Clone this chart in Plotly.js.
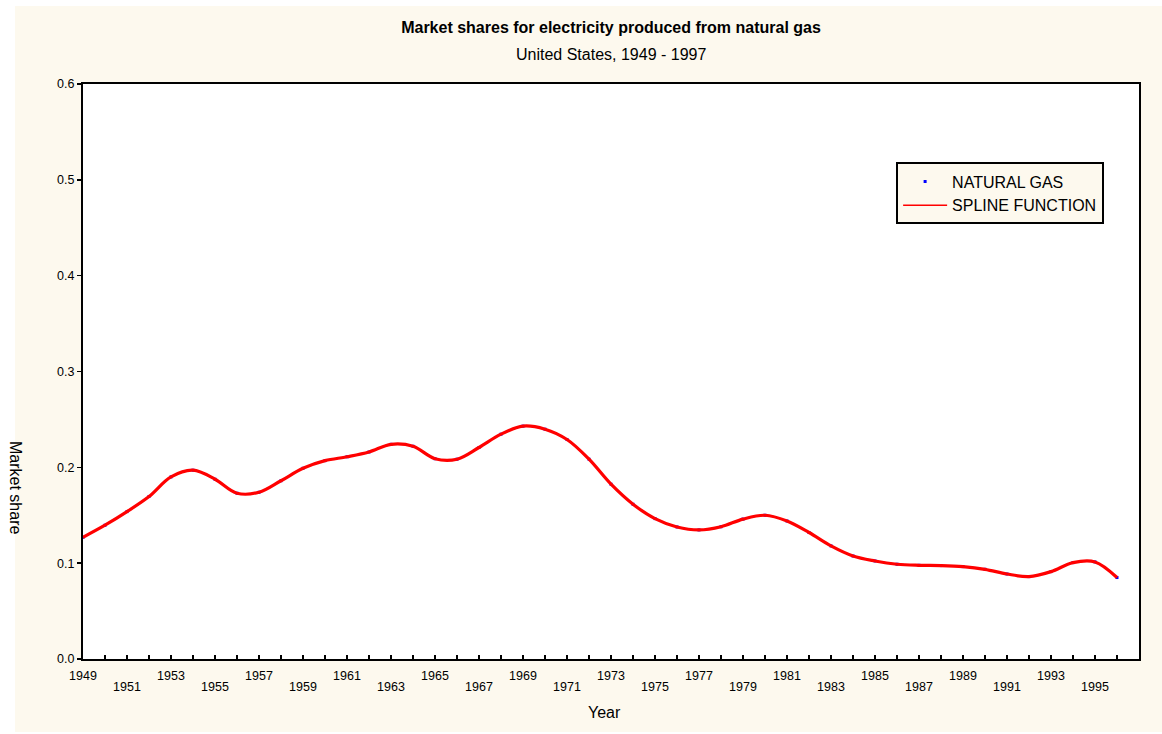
<!DOCTYPE html>
<html>
<head>
<meta charset="utf-8">
<script src="https://cdn.plot.ly/plotly-3.0.1.min.js"></script>
<style>
  html, body { margin: 0; padding: 0; background: #ffffff; width: 1162px; height: 734px; overflow: hidden; }
  #cream { position: absolute; left: 15px; top: 6px; width: 1147px; height: 726px; background: #fdf9ee; }
  #chart { position: absolute; left: 0; top: 0; width: 1162px; height: 734px; }
</style>
</head>
<body>
<div id="cream"></div>
<div id="chart"></div>
<script>
// ---- data ----
const years = [1949,1950,1951,1952,1953,1954,1955,1956,1957,1958,1959,1960,1961,1962,1963,1964,1965,1966,1967,1968,1969,1970,1971,1972,1973,1974,1975,1976,1977,1978,1979,1980,1981,1982,1983,1984,1985,1986,1987,1988,1989,1990,1991,1992,1993,1994,1995,1996];
const marketShare = [0.127,0.1396,0.1538,0.1695,0.190,0.197,0.1876,0.173,0.174,0.186,0.199,0.207,0.211,0.216,0.224,0.222,0.209,0.2085,0.2207,0.2346,0.243,0.2398,0.229,0.2085,0.1824,0.1615,0.1465,0.1378,0.1347,0.138,0.146,0.150,0.144,0.132,0.118,0.1075,0.1023,0.0989,0.0978,0.0975,0.0964,0.0936,0.0887,0.086,0.0912,0.1006,0.1013,0.085];
const tickYears = [1949,1950,1951,1952,1953,1954,1955,1956,1957,1958,1959,1960,1961,1962,1963,1964,1965,1966,1967,1968,1969,1970,1971,1972,1973,1974,1975,1976,1977,1978,1979,1980,1981,1982,1983,1984,1985,1986,1987,1988,1989,1990,1991,1992,1993,1994,1995,1996,1997];
const upperLabels = [1949,1953,1957,1961,1965,1969,1973,1977,1981,1985,1989,1993];
const lowerLabels = [1951,1955,1959,1963,1967,1971,1975,1979,1983,1987,1991,1995];
const yTicks = [0,0.1,0.2,0.3,0.4,0.5,0.6];
const seriesNames = ["NATURAL GAS", "SPLINE FUNCTION"];
const xRange = [1949, 1997];
const yRange = [0, 0.6];

const FONT = "Liberation Sans, Arial, Helvetica, sans-serif";
const CREAM = "#fdf9ee";

const upperSet = new Set(upperLabels);
const tickText = tickYears.map(y => upperSet.has(y) ? String(y) : "");

const traces = [
  {
    x: years, y: marketShare, name: seriesNames[0],
    type: "scatter", mode: "markers",
    marker: { color: "#0000ff", size: 3, symbol: "square" },
    xaxis: "x", yaxis: "y"
  },
  {
    // thin copy: provides the thin legend sample, hidden under the thick curve
    x: years, y: marketShare, name: seriesNames[1],
    type: "scatter", mode: "lines",
    line: { color: "#ff0000", width: 1.5, shape: "spline", smoothing: 1 },
    xaxis: "x", yaxis: "y"
  },
  {
    x: years, y: marketShare, name: seriesNames[1], showlegend: false,
    type: "scatter", mode: "lines",
    line: { color: "#ff0000", width: 3.2, shape: "spline", smoothing: 1 },
    xaxis: "x2", yaxis: "y"
  }
];

const layout = {
  width: 1162, height: 734,
  paper_bgcolor: "rgba(0,0,0,0)", plot_bgcolor: "#ffffff",
  margin: { l: 83, r: 23, t: 84, b: 75 },
  font: { family: FONT, color: "#000000" },
  title: {
    text: "<b>Market shares for electricity produced from natural gas</b>",
    font: { family: FONT, size: 16, color: "#000000" },
    x: 0.5, xref: "paper", y: 0.963, yref: "container", yanchor: "middle"
  },
  showlegend: true,
  legend: {
    x: 0.770, xanchor: "left", y: 0.8635, yanchor: "top",
    bgcolor: CREAM, bordercolor: "#000000", borderwidth: 2,
    font: { family: FONT, size: 16, color: "#000000" },
    itemwidth: 44, tracegroupgap: 0
  },
  xaxis: {
    range: xRange, showgrid: false, zeroline: false,
    showline: true, linecolor: "#000000", linewidth: 2, mirror: true,
    ticks: "inside", ticklen: 4, tickwidth: 1.5, tickcolor: "#000000",
    tickmode: "array", tickvals: tickYears, ticktext: tickText,
    tickfont: { family: FONT, size: 12.5, color: "#000000" },
    ticklabelstandoff: 4, tickangle: 0
  },
  xaxis2: {
    range: xRange, overlaying: "x", anchor: "y", side: "bottom",
    showgrid: false, zeroline: false, showline: false, ticks: "",
    tickmode: "array", tickvals: lowerLabels, ticktext: lowerLabels.map(String),
    tickfont: { family: FONT, size: 12.5, color: "#000000" },
    ticklabelstandoff: 18, tickangle: 0
  },
  yaxis: {
    range: yRange, showgrid: false, zeroline: false,
    showline: true, linecolor: "#000000", linewidth: 2, mirror: true,
    ticks: "outside", ticklen: 4, tickwidth: 1.5, tickcolor: "#000000",
    tickmode: "array", tickvals: yTicks, tickformat: ".1f",
    tickfont: { family: FONT, size: 12.5, color: "#000000" }
  },
  annotations: [
    {
      text: "United States, 1949 - 1997", xref: "paper", yref: "paper",
      x: 0.5, y: 1.052, xanchor: "center", yanchor: "middle", showarrow: false,
      font: { family: FONT, size: 16, color: "#000000" }
    },
    {
      text: "Year", xref: "paper", yref: "paper",
      x: 0.4934, y: -0.0939, xanchor: "center", yanchor: "middle", showarrow: false,
      font: { family: FONT, size: 16, color: "#000000" }
    },
    {
      text: "Market share", xref: "paper", yref: "paper",
      x: -0.0634, y: 0.299, xanchor: "center", yanchor: "middle", showarrow: false,
      textangle: 90,
      font: { family: FONT, size: 16, color: "#000000" }
    }
  ]
};

Plotly.newPlot("chart", traces, layout, { displayModeBar: false, staticPlot: true });
</script>
</body>
</html>
